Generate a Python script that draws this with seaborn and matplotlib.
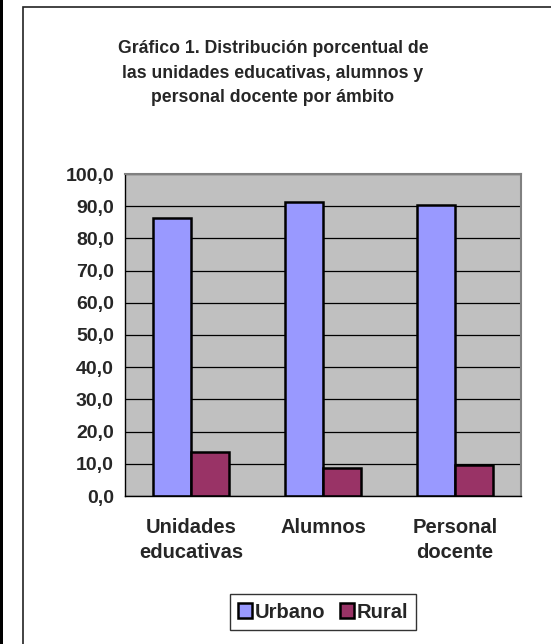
import matplotlib

matplotlib.use("Agg")
import matplotlib.pyplot as plt
import pandas as pd
import seaborn as sns
from matplotlib.patches import Patch, Rectangle
from matplotlib.ticker import FixedLocator

CATEGORIES = ["Unidades\neducativas", "Alumnos", "Personal\ndocente"]
SERIES = ["Urbano", "Rural"]
URBANO = [86.2, 91.2, 90.3]
RURAL = [13.8, 8.8, 9.7]
Y_TICKS = [0, 10, 20, 30, 40, 50, 60, 70, 80, 90, 100]
COLORS = {"Urbano": "#9999FF", "Rural": "#993366"}
TITLE = "Gráfico 1. Distribución porcentual de\nlas unidades educativas, alumnos y\npersonal docente por ámbito"

sns.set_style("white")
plt.rcParams["font.family"] = ["Liberation Sans", "DejaVu Sans"]
plt.rcParams["font.weight"] = "bold"

df = pd.DataFrame(
    {
        "categoria": CATEGORIES * 2,
        "ambito": ["Urbano"] * 3 + ["Rural"] * 3,
        "valor": URBANO + RURAL,
    }
)

W, H = 551, 644
fig = plt.figure(figsize=(W / 100, H / 100), dpi=100)
fig.patch.set_facecolor("white")

# outer frame and black strip on the left
fig.add_artist(Rectangle((0, 0), 3 / W, 1, transform=fig.transFigure, facecolor="black", edgecolor="none"))
fig.add_artist(
    Rectangle((23 / W, -0.1), 1.0, 1 - 7 / H + 0.1, transform=fig.transFigure,
              facecolor="none", edgecolor="#222222", linewidth=1.2)
)

ax = fig.add_axes([125 / W, 1 - 496 / H, 396 / W, 322 / H])
ax.set_facecolor("#C0C0C0")
sns.barplot(
    data=df, x="categoria", y="valor", hue="ambito", hue_order=SERIES,
    palette=COLORS, width=0.574, gap=0, edgecolor="black", linewidth=1.8,
    saturation=1, ax=ax, legend=False,
)
ax.set_xlim(-0.5, 2.5)
ax.set_ylim(0, 100)
ax.set_yticks(Y_TICKS)
ax.set_yticklabels([f"{v:.1f}".replace(".", ",") for v in Y_TICKS], fontsize=14, fontweight="bold")
ax.yaxis.grid(True, color="black", linewidth=0.9)
ax.set_axisbelow(True)

# category boundaries get the ticks, labels sit in between
ax.xaxis.set_major_locator(FixedLocator([-0.5, 0.5, 1.5, 2.5]))
ax.set_xticklabels([])
ax.xaxis.set_minor_locator(FixedLocator([0, 1, 2]))
ax.set_xticklabels(CATEGORIES, minor=True, fontsize=14.5, fontweight="bold", linespacing=1.4)
ax.tick_params(axis="x", which="minor", length=0, pad=16)
ax.tick_params(axis="x", which="major", length=5, width=1, color="black", direction="out")
ax.tick_params(axis="y", length=5, width=1, color="black", direction="out", pad=3)
ax.set_xlabel("")
ax.set_ylabel("")

for side in ["left", "bottom"]:
    ax.spines[side].set_color("black")
    ax.spines[side].set_linewidth(1)
for side in ["top", "right"]:
    ax.spines[side].set_visible(True)
    ax.spines[side].set_color("#808080")
    ax.spines[side].set_linewidth(1.5)

fig.text(273 / W, 1 - 73 / H, TITLE, ha="center", va="center", fontsize=12.7,
         fontweight="bold", linespacing=1.6)

handles = [Patch(facecolor=COLORS[s], edgecolor="black", linewidth=1.8, label=s) for s in SERIES]
leg = fig.legend(
    handles=handles, loc="center", bbox_to_anchor=(323 / W, 1 - 612 / H), ncol=2,
    frameon=True, fancybox=False, handlelength=0.7, handleheight=0.7,
    handletextpad=0.15, columnspacing=0.7, borderpad=0.4, borderaxespad=0,
    prop={"size": 14.5, "weight": "bold"},
)
leg.get_frame().set_edgecolor("black")
leg.get_frame().set_linewidth(1)

fig.savefig("out.png", dpi=100)
